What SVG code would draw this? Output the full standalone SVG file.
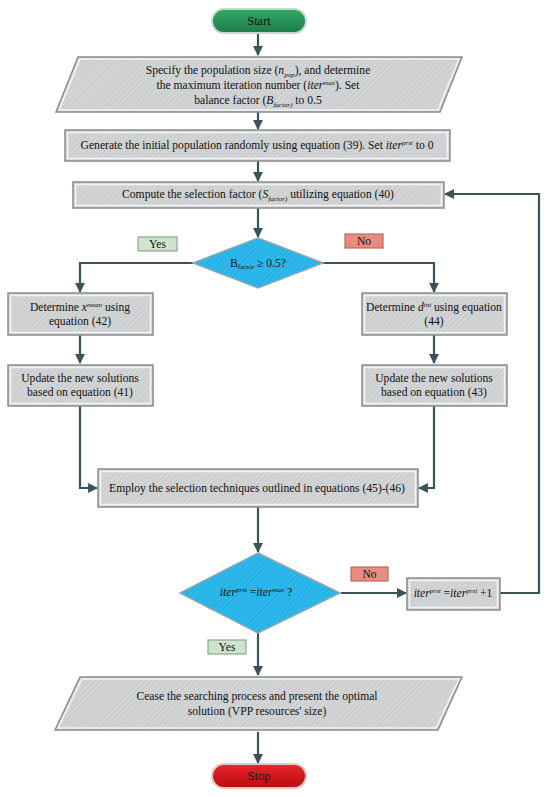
<svg xmlns="http://www.w3.org/2000/svg" width="550" height="797" viewBox="0 0 550 797" font-family="Liberation Serif, Times New Roman, serif">
<style>
text{font-family:'Liberation Serif','Times New Roman','DejaVu Serif',serif;font-size:11.6px;fill:#111;text-anchor:middle}
.conn{fill:none;stroke:#3a5458;stroke-width:2.2}
.box{fill:url(#hatch);stroke:#8c8c8c;stroke-width:1.5}
.hi{fill:none;stroke:#f4f4f4;stroke-width:1.5}
.dia{fill:url(#cyan);stroke:#8fa7b0;stroke-width:1.5}
.yes{fill:#cfe3cf;stroke:#8aa88a;stroke-width:1.2}
.no{fill:#e98c80;stroke:#b96a60;stroke-width:1.2}
.s{font-size:7px}
.i{font-style:italic}
.big{font-size:12.5px}
</style>
<defs>
<pattern id="hatch" width="4" height="4" patternUnits="userSpaceOnUse" patternTransform="rotate(45)">
<rect width="4" height="4" fill="#d2d4d5"/>
<line x1="0" y1="0" x2="0" y2="4" stroke="#c4c7c8" stroke-width="1.5"/>
</pattern>
<pattern id="cyan" width="4" height="4" patternUnits="userSpaceOnUse" patternTransform="rotate(45)">
<rect width="4" height="4" fill="#2cb8ec"/>
<line x1="0" y1="0" x2="0" y2="4" stroke="#22a8dc" stroke-width="1.5"/>
</pattern>
<linearGradient id="green" x1="0" y1="0" x2="0" y2="1">
<stop offset="0" stop-color="#35a86a"/><stop offset="1" stop-color="#1a7d45"/>
</linearGradient>
<linearGradient id="red" x1="0" y1="0" x2="0" y2="1">
<stop offset="0" stop-color="#e8262a"/><stop offset="1" stop-color="#b80d10"/>
</linearGradient>
<marker id="arr" viewBox="0 0 10 10" refX="9" refY="5" markerWidth="4.5" markerHeight="4.5" orient="auto" markerUnits="strokeWidth">
<path d="M0,0 L10,5 L0,10 z" fill="#3a5458"/>
</marker>
</defs>

<g id="connectors">
<line class="conn" x1="258" y1="33" x2="258" y2="55" marker-end="url(#arr)"/>
<line class="conn" x1="258" y1="112" x2="258" y2="129" marker-end="url(#arr)"/>
<line class="conn" x1="258" y1="161" x2="258" y2="181" marker-end="url(#arr)"/>
<line class="conn" x1="258" y1="208" x2="258" y2="237" marker-end="url(#arr)"/>
<polyline class="conn" points="193,263 80,263 80,292" marker-end="url(#arr)"/>
<polyline class="conn" points="323,263 434,263 434,292" marker-end="url(#arr)"/>
<line class="conn" x1="80" y1="335" x2="80" y2="363" marker-end="url(#arr)"/>
<line class="conn" x1="434" y1="335" x2="434" y2="363" marker-end="url(#arr)"/>
<polyline class="conn" points="80,406 80,488 97,488" marker-end="url(#arr)"/>
<polyline class="conn" points="434,406 434,488 419,488" marker-end="url(#arr)"/>
<line class="conn" x1="258" y1="507" x2="258" y2="552" marker-end="url(#arr)"/>
<line class="conn" x1="341" y1="593" x2="406" y2="593" marker-end="url(#arr)"/>
<polyline class="conn" points="500,593 539,593 539,194 445,194" marker-end="url(#arr)"/>
<line class="conn" x1="258" y1="633" x2="258" y2="675" marker-end="url(#arr)"/>
<line class="conn" x1="258" y1="732" x2="258" y2="763" marker-end="url(#arr)"/>
</g>

<g id="start">
<rect x="212" y="9" width="94" height="24" rx="12" fill="url(#green)" stroke="#c8d8cf" stroke-width="2"/>
<text class="big" x="259" y="25">Start</text>
</g>

<g id="init-params">
<polygon class="box" points="78,57 462,57 440,112 56,112"/>
<polygon class="hi" points="80,59 459,59 438,110 59,110"/>
<text x="258" y="74">Specify the population size (<tspan class="i">n</tspan><tspan class="s i" dy="3">pop</tspan><tspan dy="-3">), and determine</tspan></text>
<text x="258" y="89">the maximum iteration number (<tspan class="i">iter</tspan><tspan class="s i" dy="-4">max</tspan><tspan dy="4">). Set</tspan></text>
<text x="258" y="104">balance factor (<tspan class="i">B</tspan><tspan class="s i" dy="3">factor)</tspan><tspan dy="-3"> to 0.5</tspan></text>
</g>

<g id="generate">
<rect class="box" x="65" y="130" width="385" height="31"/>
<rect class="hi" x="67.5" y="132.5" width="380" height="26"/>
<text x="257" y="149">Generate the initial population randomly using equation (39). Set <tspan class="i">iter</tspan><tspan class="s i" dy="-4">prst</tspan><tspan dy="4"> to 0</tspan></text>
</g>

<g id="compute">
<rect class="box" x="73" y="182" width="371" height="26"/>
<rect class="hi" x="75.5" y="184.5" width="366" height="21"/>
<text x="258" y="198">Compute the selection factor (<tspan class="i">S</tspan><tspan class="s i" dy="3">factor)</tspan><tspan dy="-3"> utilizing equation (40)</tspan></text>
</g>

<g id="decision1">
<polygon class="dia" points="258,238 323,263 258,288 193,263"/>
<text x="258" y="267">B<tspan class="s" dy="2">factor</tspan><tspan dy="-2"> ≥ 0.5?</tspan></text>
</g>

<g id="yes1">
<rect class="yes" x="138" y="237" width="39" height="14"/>
<text x="157.5" y="248">Yes</text>
</g>
<g id="no1">
<rect class="no" x="345" y="234" width="38" height="14"/>
<text x="364" y="245">No</text>
</g>

<g id="det-xmean">
<rect class="box" x="8" y="293" width="145" height="42"/>
<rect class="hi" x="10.5" y="295.5" width="140" height="37"/>
<text x="80" y="311">Determine <tspan class="i">x</tspan><tspan class="s i" dy="-4">mean</tspan><tspan dy="4"> using</tspan></text>
<text x="80" y="325">equation (42)</text>
</g>

<g id="det-dint">
<rect class="box" x="362" y="293" width="145" height="42"/>
<rect class="hi" x="364.5" y="295.5" width="140" height="37"/>
<text x="434" y="311">Determine <tspan class="i">d</tspan><tspan class="s i" dy="-4">int</tspan><tspan dy="4">  using equation</tspan></text>
<text x="434" y="325">(44)</text>
</g>

<g id="update-left">
<rect class="box" x="8" y="365" width="145" height="41"/>
<rect class="hi" x="10.5" y="367.5" width="140" height="36"/>
<text x="80" y="382">Update the new solutions</text>
<text x="80" y="396">based on equation (41)</text>
</g>

<g id="update-right">
<rect class="box" x="362" y="365" width="145" height="41"/>
<rect class="hi" x="364.5" y="367.5" width="140" height="36"/>
<text x="434" y="382">Update the new solutions</text>
<text x="434" y="396">based on equation (43)</text>
</g>

<g id="employ">
<rect class="box" x="98" y="469" width="320" height="38"/>
<rect class="hi" x="100.5" y="471.5" width="315" height="33"/>
<text x="257" y="492">Employ the selection techniques outlined in equations (45)-(46)</text>
</g>

<g id="decision2">
<polygon class="dia" points="258,553 340,593 258,633 180,593"/>
<text x="256" y="596"><tspan class="i">iter</tspan><tspan class="s i" dy="-4">prst</tspan><tspan dy="4"> =</tspan><tspan class="i">iter</tspan><tspan class="s i" dy="-4">max</tspan><tspan dy="4"> ?</tspan></text>
</g>

<g id="no2">
<rect class="no" x="351" y="567" width="37" height="14"/>
<text x="369.5" y="578">No</text>
</g>

<g id="increment">
<rect class="box" x="407" y="578" width="93" height="32"/>
<rect class="hi" x="409.5" y="580.5" width="88" height="27"/>
<text x="453" y="597"><tspan class="i">iter</tspan><tspan class="s i" dy="-4">prst</tspan><tspan dy="4"> =</tspan><tspan class="i">iter</tspan><tspan class="s i" dy="-4">prst</tspan><tspan dy="4"> +1</tspan></text>
</g>

<g id="yes2">
<rect class="yes" x="208" y="640" width="38" height="14"/>
<text x="227" y="651">Yes</text>
</g>

<g id="cease">
<polygon class="box" points="80,677 462,677 438,730 55,730"/>
<polygon class="hi" points="82,679 459,679 436,728 58,728"/>
<text x="257" y="700">Cease the searching process and present the optimal</text>
<text x="257" y="715">solution (VPP resources' size)</text>
</g>

<g id="stop">
<rect x="212" y="764" width="94" height="24" rx="12" fill="url(#red)" stroke="#e0c8c8" stroke-width="2"/>
<text class="big" x="259" y="780">Stop</text>
</g>
</svg>
